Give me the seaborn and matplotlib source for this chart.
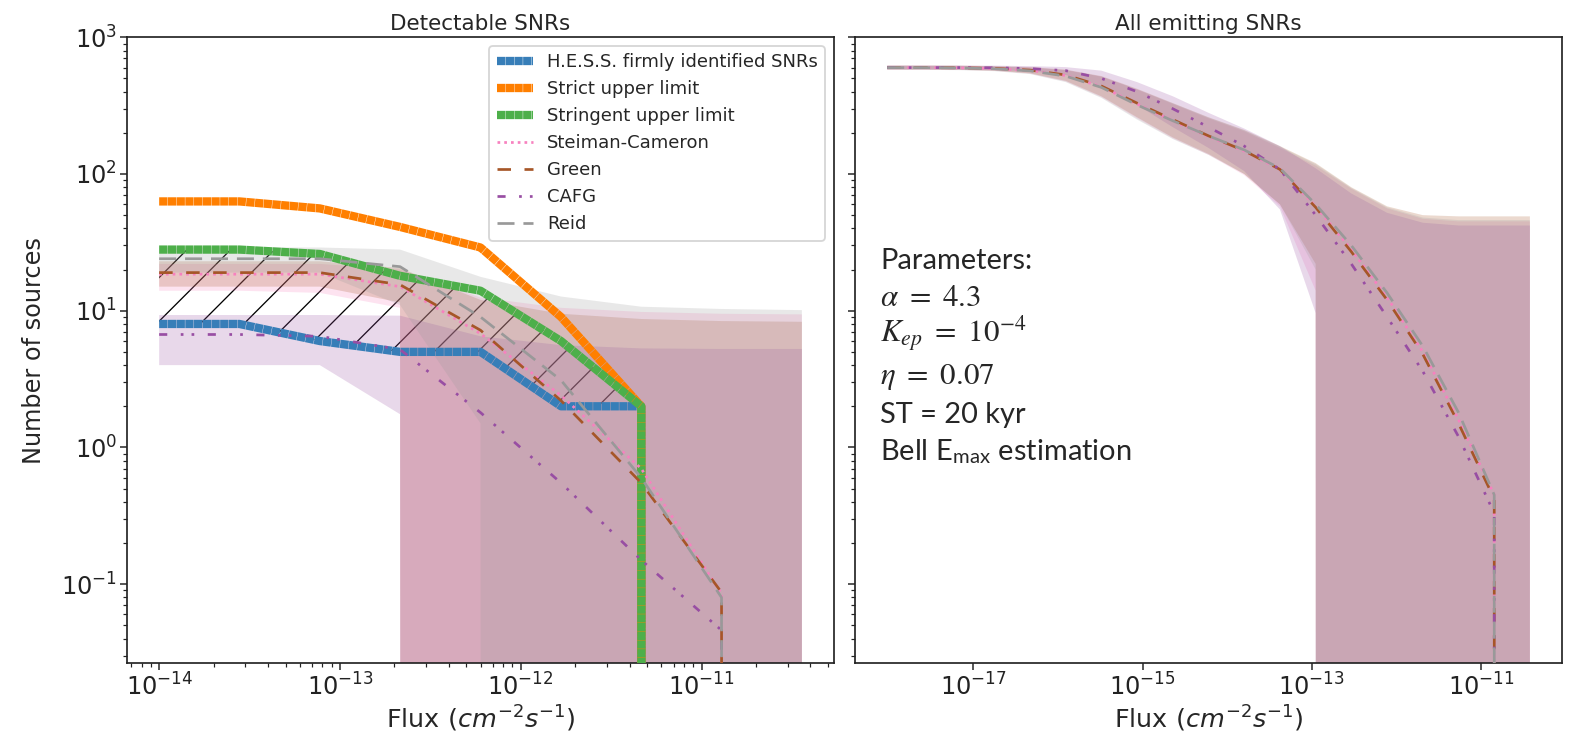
import matplotlib
matplotlib.use("Agg")
import matplotlib.pyplot as plt
from matplotlib.ticker import NullLocator
import seaborn as sns

# Render scale: sizes below are given in pixels and converted to points.
DPI = 131
PX = 72 / DPI

# ---------------------------------------------------------------- data
# Left panel: flux grid and observed / upper-limit counts
flux_det = [1.00e-14, 2.78e-14, 7.74e-14, 2.15e-13, 5.99e-13,
            1.67e-12, 4.64e-12, 1.29e-11, 3.59e-11]
hess_firm = [8, 8, 6, 5, 5, 2, 2, 0, 0]
strict_ul = [63, 63, 56, 41, 29, 9, 2, 0, 0]
stringent_ul = [28, 28, 26, 18, 14, 6, 2, 0, 0]

# Left panel: model medians and spread
det_sc = [18.5, 18.5, 18.5, 15, 6.8, 2.4, 0.7, 0.085, 0]
det_sc_lo = [14, 14, 13.5, 10.5, 0, 0, 0, 0, 0]
det_sc_hi = [22, 22, 22, 20, 12.5, 10.5, 9.8, 9.5, 9.4]

det_green = [19, 19, 19, 15.5, 7.2, 2.2, 0.55, 0.087, 0]
det_green_lo = [15, 15, 15, 11.5, 0, 0, 0, 0, 0]
det_green_hi = [23, 23, 23, 20.5, 12, 9.5, 8.7, 8.4, 8.3]

det_cafg = [6.7, 6.7, 6.5, 5.2, 1.8, 0.55, 0.15, 0.046, 0]
det_cafg_lo = [4, 4, 4, 1.75, 0, 0, 0, 0, 0]
det_cafg_hi = [9.3, 9.3, 9.3, 9.2, 6.5, 5.6, 5.3, 5.25, 5.25]

det_reid = [24, 24, 24, 21, 9, 3.1, 0.6, 0.08, 0]
det_reid_lo = [19, 19, 19, 11, 1.5, 0, 0, 0, 0]
det_reid_hi = [29, 29, 29, 28, 17.7, 12.7, 10.7, 10.3, 10.1]

# Right panel: flux grid, model medians and spread
flux_all = [9.55e-19, 2.52e-18, 6.67e-18, 1.766e-17, 4.67e-17, 1.233e-16,
            3.26e-16, 8.61e-16, 2.28e-15, 6.03e-15, 1.592e-14, 4.21e-14,
            1.114e-13, 2.94e-13, 7.78e-13, 2.06e-12, 5.44e-12, 1.439e-11,
            3.80e-11]

all_sc = [600, 600, 598, 590, 572, 525, 435, 325, 245, 188, 147, 108,
          58, 28, 12.5, 5.0, 1.6, 0.45, 0]
all_sc_lo = [580, 580, 578, 568, 542, 475, 365, 255, 182, 138, 98, 58,
             14, 0, 0, 0, 0, 0, 0]
all_sc_hi = [620, 620, 618, 612, 600, 575, 515, 415, 325, 255, 205, 155,
             115, 78, 56, 47, 45, 45, 45]

all_green = [600, 600, 598, 592, 575, 530, 440, 330, 250, 190, 148, 108,
             57, 27, 12, 4.8, 1.5, 0.42, 0]
all_green_lo = [580, 580, 578, 570, 545, 480, 370, 260, 185, 140, 100, 60,
                22, 0, 0, 0, 0, 0, 0]
all_green_hi = [620, 620, 620, 615, 605, 580, 520, 420, 330, 260, 210, 160,
                120, 80, 58, 50, 49, 49, 49]

all_cafg = [600, 600, 600, 598, 590, 570, 500, 400, 300, 220, 160, 108,
            50, 22, 9, 3.6, 1.2, 0.33, 0]
all_cafg_lo = [582, 582, 580, 576, 565, 530, 440, 320, 220, 155, 105, 55,
               9.6, 0, 0, 0, 0, 0, 0]
all_cafg_hi = [620, 620, 620, 620, 615, 605, 570, 470, 370, 280, 215, 160,
               110, 72, 52, 44, 42, 42, 42]

all_reid = [600, 600, 597, 588, 568, 520, 430, 320, 245, 190, 150, 110,
            60, 30, 13.5, 5.5, 1.8, 0.45, 0]
all_reid_lo = [578, 578, 575, 565, 538, 470, 360, 250, 180, 138, 100, 60,
               20, 0, 0, 0, 0, 0, 0]
all_reid_hi = [620, 620, 618, 612, 600, 575, 515, 415, 328, 258, 208, 158,
               118, 79, 57, 48, 46, 46, 46]

param_lines = ["Parameters:", r"$\alpha\ =\ 4.3$", r"$K_{ep}\ =\ 10^{-4}$",
               r"$\eta\ =\ 0.07$", "ST = 20 kyr",
               r"Bell E$_{\mathregular{max}}$ estimation"]

# ---------------------------------------------------------------- style
C_HESS, C_STRICT, C_STRINGENT = "#377eb8", "#ff7f00", "#4daf4a"
C_SC, C_GREEN, C_CAFG, C_REID = "#f781bf", "#a65628", "#984ea3", "#999999"

sns.set_theme(style="ticks")
plt.rcParams["font.family"] = ["DejaVu Sans"]
plt.rcParams.update({
    "axes.linewidth": 1.7 * PX,
    "axes.edgecolor": "#222222",
    "xtick.major.size": 7 * PX, "ytick.major.size": 7 * PX,
    "xtick.minor.size": 4 * PX, "ytick.minor.size": 4 * PX,
    "xtick.major.width": 1.5 * PX, "ytick.major.width": 1.5 * PX,
    "xtick.minor.width": 1.2 * PX, "ytick.minor.width": 1.2 * PX,
    "xtick.major.pad": 3 * PX, "ytick.major.pad": 3 * PX,
    "xtick.color": "#222222", "ytick.color": "#222222",
    "xtick.labelsize": 24 * PX, "ytick.labelsize": 24 * PX,
    "hatch.linewidth": 1.3 * PX,
    "legend.fontsize": 18 * PX,
})

THICK = 8.3 * PX
THIN = 2.7 * PX
BLOCKS = (0, (1, 0.05))
models = [
    ("Steiman-Cameron", C_SC, (0, (1, 1.5))),
    ("Green", C_GREEN, (0, (5, 5))),
    ("CAFG", C_CAFG, (0, (3, 5, 1, 3, 1, 5))),
    ("Reid", C_REID, (0, (6.3, 3.3))),
]

fig, (ax1, ax2) = plt.subplots(1, 2, figsize=(1574 / DPI, 738 / DPI),
                               dpi=DPI, sharey=True)
fig.subplots_adjust(left=0.0807, right=0.9924, bottom=0.1016, top=0.9495,
                    wspace=0.0297)

# ---------------------------------------------------------------- left panel
ax1.fill_between(flux_det[:7], hess_firm[:7], stringent_ul[:7],
                 facecolor="none", edgecolor="black", hatch="/", lw=0,
                 zorder=0.5)

det_sets = [(det_sc, det_sc_lo, det_sc_hi), (det_green, det_green_lo, det_green_hi),
            (det_cafg, det_cafg_lo, det_cafg_hi), (det_reid, det_reid_lo, det_reid_hi)]
for (name, col, ls), (med, lo, hi) in zip(models, det_sets):
    ax1.fill_between(flux_det, lo, hi, color=col, alpha=0.22, lw=0, zorder=1)

for vals, col, lab in [(hess_firm, C_HESS, "H.E.S.S. firmly identified SNRs"),
                       (strict_ul, C_STRICT, "Strict upper limit"),
                       (stringent_ul, C_STRINGENT, "Stringent upper limit")]:
    sns.lineplot(x=flux_det, y=vals, ax=ax1, color=col, lw=THICK,
                 linestyle=BLOCKS, label=lab, zorder=3, estimator=None)

for (name, col, ls), (med, lo, hi) in zip(models, det_sets):
    sns.lineplot(x=flux_det, y=med, ax=ax1, color=col, lw=THIN,
                 linestyle=ls, label=name, zorder=4, estimator=None)

# ---------------------------------------------------------------- right panel
all_sets = [(all_sc, all_sc_lo, all_sc_hi), (all_green, all_green_lo, all_green_hi),
            (all_cafg, all_cafg_lo, all_cafg_hi), (all_reid, all_reid_lo, all_reid_hi)]
for (name, col, ls), (med, lo, hi) in zip(models, all_sets):
    ax2.fill_between(flux_all, lo, hi, color=col, alpha=0.22, lw=0, zorder=1)
for (name, col, ls), (med, lo, hi) in zip(models, all_sets):
    sns.lineplot(x=flux_all, y=med, ax=ax2, color=col, lw=THIN,
                 linestyle=ls, zorder=4, estimator=None)

# ---------------------------------------------------------------- axes
for ax in (ax1, ax2):
    ax.set_xscale("log")
    ax.set_yscale("log")
    ax.set_xlabel(r"Flux ($cm^{-2}s^{-1}$)", fontsize=25.5 * PX,
                  labelpad=4 * PX)
ax1.set_ylim(0.0265, 1000)
ax2.set_xticks([1e-17, 1e-15, 1e-13, 1e-11])
ax2.xaxis.set_minor_locator(NullLocator())
ax1.set_ylabel("Number of sources", fontsize=24 * PX, labelpad=15 * PX)
ax1.set_title("Detectable SNRs", fontsize=21.5 * PX, pad=7 * PX)
ax2.set_title("All emitting SNRs", fontsize=21.5 * PX, pad=7 * PX)

ax1.legend(loc="upper right", fontsize=18 * PX)
if ax2.get_legend() is not None:
    ax2.get_legend().remove()

ys = [0.6297, 0.5705, 0.5130, 0.4460, 0.3836, 0.3244]
for txt, y in zip(param_lines, ys):
    size = 31 if txt.startswith("$") else 29
    ax2.text(0.0354, y, txt, transform=ax2.transAxes, fontsize=size * PX,
             family="Lato", math_fontfamily="stix", va="baseline", ha="left")

fig.savefig("out.png", dpi=DPI)
